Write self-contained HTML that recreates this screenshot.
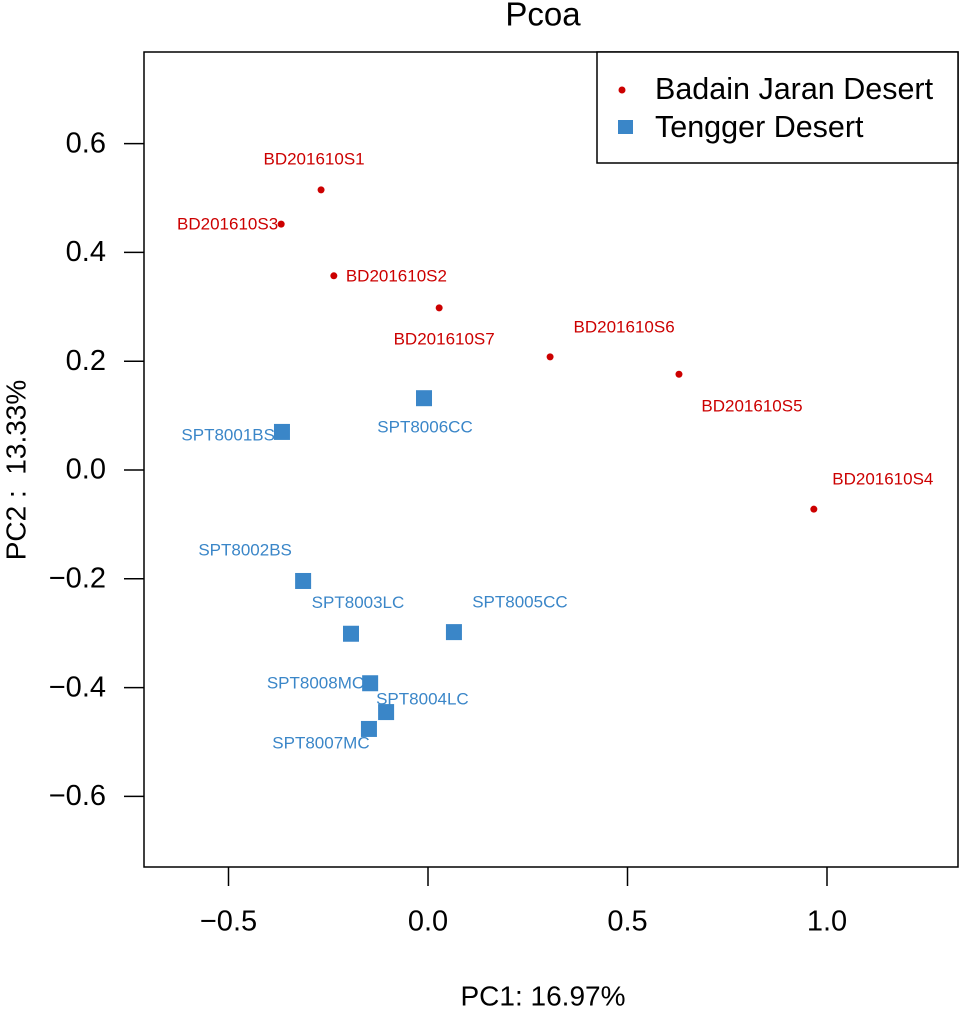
<!DOCTYPE html>
<html><head><meta charset="utf-8"><style>
body{margin:0;background:#fff;}
svg{display:block;font-family:"Liberation Sans",Arial,sans-serif;}
</style></head><body>
<svg id="chart" width="961" height="1011" viewBox="0 0 961 1011">
<text x="543" y="17" font-size="33" text-anchor="middle" dominant-baseline="middle">Pcoa</text>
<rect x="144" y="52" width="814" height="815" fill="none" stroke="#000" stroke-width="1.5"/>
<g id="xaxis"></g>
<g id="yaxis"></g>
<text x="543" y="998" font-size="28" text-anchor="middle" dominant-baseline="middle">PC1: 16.97%</text>
<text transform="translate(18,470) rotate(-90)" font-size="28" text-anchor="middle" dominant-baseline="middle" xml:space="preserve">PC2 :  13.33%</text>
<g id="points"></g>
<g>
<rect x="597" y="52" width="361" height="111" fill="#fff" stroke="#000" stroke-width="1.5"/>
<circle cx="622" cy="90" r="3.5" fill="#cc0000"/>
<text x="655" y="91" font-size="30.5" dominant-baseline="middle">Badain Jaran Desert</text>
<rect x="618" y="120" width="15" height="14" fill="#3a86c8"/>
<text x="655" y="129" font-size="30.5" dominant-baseline="middle">Tengger Desert</text>
</g>
</svg>
<script>
const xTicks=[-0.5,0.0,0.5,1.0];
const xTickLabels=["\u22120.5","0.0","0.5","1.0"];
const yTicks=[0.6,0.4,0.2,0.0,-0.2,-0.4,-0.6];
const yTickLabels=["0.6","0.4","0.2","0.0","\u22120.2","\u22120.4","\u22120.6"];
const bdNames=["BD201610S1","BD201610S3","BD201610S2","BD201610S7","BD201610S6","BD201610S5","BD201610S4"];
const bdX=[-0.268,-0.368,-0.236,0.028,0.306,0.629,0.967];
const bdY=[0.515,0.452,0.357,0.298,0.208,0.176,-0.072];
const tgNames=["SPT8006CC","SPT8001BS","SPT8002BS","SPT8003LC","SPT8005CC","SPT8008MC","SPT8004LC","SPT8007MC"];
const tgX=[-0.010,-0.366,-0.313,-0.193,0.065,-0.145,-0.105,-0.148];
const tgY=[0.132,0.070,-0.204,-0.301,-0.298,-0.392,-0.445,-0.476];
const bdOff=[[-7,-30,"middle"],[-3,1,"end"],[12,1,"start"],[5,32,"middle"],[74,-29,"middle"],[73,33,"middle"],[69,-29,"middle"]];
const tgOff=[[1,30,"middle"],[-7,4,"end"],[-58,-30,"middle"],[7,-30,"middle"],[66,-29,"middle"],[-6,1,"end"],[-10,-12,"start"],[-48,15,"middle"]];
const X=v=>428+v*399, Y=v=>470-v*544;
const NS="http://www.w3.org/2000/svg";
function mk(tag,attrs,parent,txt){const e=document.createElementNS(NS,tag);for(const k in attrs)e.setAttribute(k,attrs[k]);if(txt!==undefined)e.textContent=txt;parent.appendChild(e);return e;}
const xa=document.getElementById('xaxis'),ya=document.getElementById('yaxis'),pts=document.getElementById('points');
xTicks.forEach((t,i)=>{
 const l=mk('line',{x1:X(t),x2:X(t),y1:867,y2:886,stroke:'#000','stroke-width':1.5},xa);
 
 
 const s=mk('text',{x:X(t),y:923,'font-size':29,'text-anchor':'middle','dominant-baseline':'middle'},xa,xTickLabels[i]);
 
 
});
yTicks.forEach((t,i)=>{
 const l=mk('line',{x1:124,x2:144,y1:Y(t),y2:Y(t),stroke:'#000','stroke-width':1.5},ya);
 
 
 const s=mk('text',{x:106,y:Y(t)+1,'font-size':29,'text-anchor':'end','dominant-baseline':'middle'},ya,yTickLabels[i]);
 
 
});
bdX.forEach((v,i)=>{
 const c=mk('circle',{cx:X(v),cy:Y(bdY[i]),r:3.5,fill:'#cc0000'},pts);
 
 
 const o=bdOff[i];
 const t=mk('text',{x:X(v)+o[0],y:Y(bdY[i])+o[1],'font-size':17,fill:'#cc0000','text-anchor':o[2],'dominant-baseline':'middle'},pts,bdNames[i]);
 
 
});
tgX.forEach((v,i)=>{
 const r=mk('rect',{x:X(v)-8,y:Y(tgY[i])-8,width:16,height:16,fill:'#3a86c8'},pts);
 
 
 const o=tgOff[i];
 const t=mk('text',{x:X(v)+o[0],y:Y(tgY[i])+o[1],'font-size':17,fill:'#3a86c8','text-anchor':o[2],'dominant-baseline':'middle'},pts,tgNames[i]);
 
 
});
</script>
</body></html>
